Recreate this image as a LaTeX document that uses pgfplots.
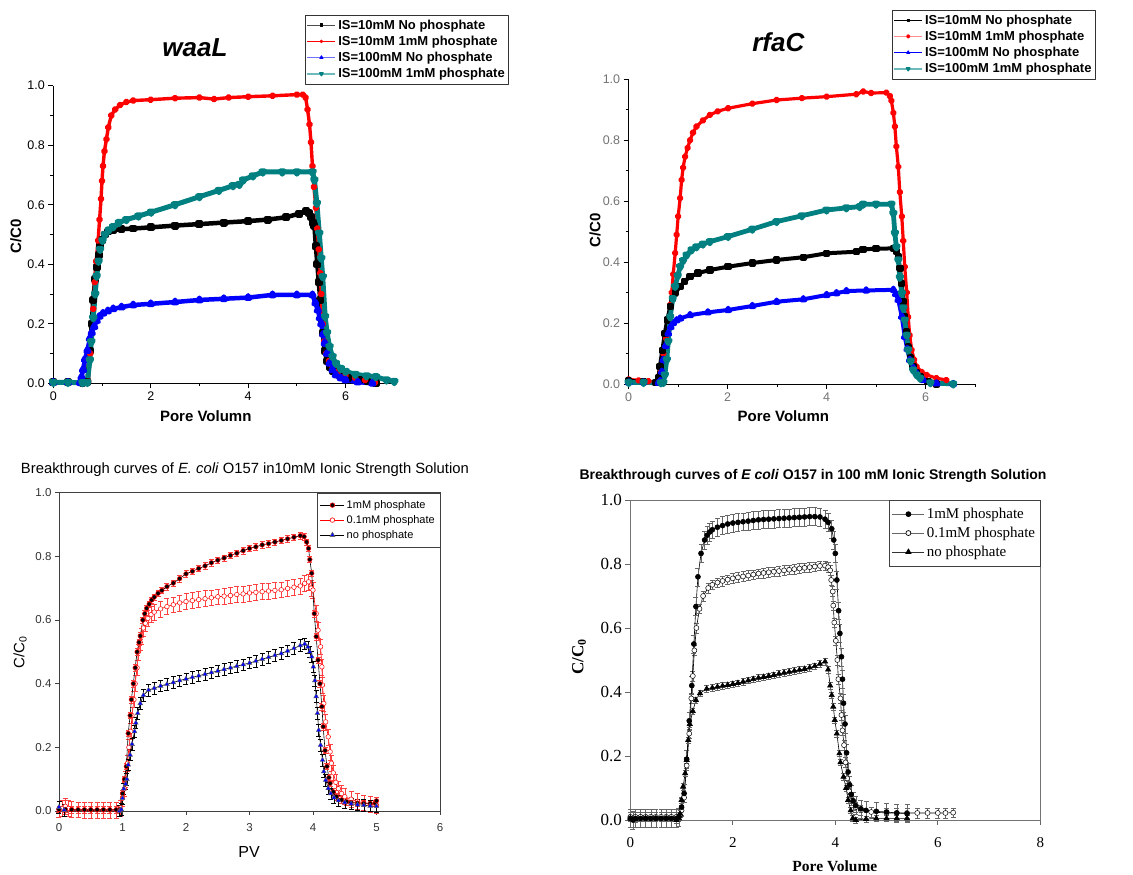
\documentclass[border=0pt]{standalone}
\usepackage{fontspec}
\setmainfont{Liberation Sans}
\newfontfamily\seriffont{Liberation Serif}
\usepackage{pgfplots}
\pgfplotsset{compat=1.18}
\definecolor{tealc}{RGB}{0,128,128}
\definecolor{tealL}{RGB}{110,185,185}
\definecolor{redL}{RGB}{255,140,140}
\definecolor{blueL}{RGB}{110,110,255}
\newcommand{\fs}[1]{\fontsize{#1}{#1}\selectfont}
\pgfplotsset{
  every axis title shift=0pt,
  topax/.style={
    scale only axis, xmin=0, xmax=7, ymin=0, ymax=1,
    axis x line*=bottom, axis y line*=left,
    axis line style={line width=0.8pt,-},
    xtick={0,2,4,6}, minor xtick={1,3,5,7},
    ytick={0,0.2,0.4,0.6,0.8,1.0}, minor ytick={0.1,0.3,0.5,0.7,0.9},
    tick align=outside, major tick length=5pt, minor tick length=3pt,
    every tick/.style={line width=0.8pt, black},
    yticklabel style={/pgf/number format/.cd,fixed,fixed zerofill,precision=1},
    /pgf/number format/assume math mode=true,
    clip=false,
    legend cell align=left,
    line join=round,
  },
}
\begin{document}
\begin{tikzpicture}
\path[use as bounding box] (0,0) rectangle (1133pt,875pt);

%================ Panel 1: waaL
\begin{axis}[topax,
  at={(53.3pt,491.7pt)}, anchor=south west, width=341pt, height=297.6pt,
  tick label style={font=\fs{12.5}},
  title={\bfseries\itshape\fs{26}waaL},
  title style={at={(rel axis cs:0.4155,1.1267)}, anchor=center},
  xlabel={\bfseries\fs{15}Pore Volumn},
  xlabel style={at={(rel axis cs:0.447,-0.112)}, anchor=center},
  ylabel={\bfseries\fs{15}C/C0},
  ylabel style={at={(rel axis cs:-0.110,0.493)}, anchor=center},
  legend style={at={(rel axis cs:0.738,1.2376)}, anchor=north west, font=\bfseries\fontsize{13}{14}\selectfont, draw=black!80, inner xsep=1.5pt, inner ysep=2.5pt, row sep=1.3pt},
  legend image code/.code={\draw[mark repeat=2,mark phase=2,#1] plot coordinates {(0pt,0pt)(14pt,0pt)(28pt,0pt)};},
]
\addplot[black, line width=4.5pt, mark=square*, mark size=1.7pt, forget plot] coordinates {
(0,0.003)(0.3,0.003)(0.6,0.002)(0.7,0.005)(0.75,0.11)(0.79,0.2)(0.82,0.28)(0.86,0.35)(0.89,0.39)(0.93,0.43)(0.96,0.46)(1.0,0.48)(1.06,0.50)(1.13,0.51)(1.23,0.515)(1.4,0.518)(1.64,0.52)(2.0,0.524)(2.5,0.53)(3.0,0.535)(3.5,0.54)(4.0,0.545)(4.4,0.55)(4.78,0.558)(5.05,0.57)(5.19,0.578)(5.25,0.572)(5.29,0.56)(5.33,0.54)(5.36,0.53)(5.39,0.46)(5.42,0.40)(5.45,0.34)(5.48,0.28)(5.5,0.22)(5.53,0.17)(5.57,0.11)(5.62,0.075)(5.67,0.056)(5.75,0.04)(5.87,0.028)(6.05,0.018)(6.28,0.011)(6.45,0.006)(6.62,0)};
\addplot[red, line width=3.4pt, mark=*, mark size=1.9pt, forget plot] coordinates {
(0,0.003)(0.3,0.003)(0.6,0.002)(0.72,0.005)(0.76,0.1)(0.79,0.17)(0.82,0.25)(0.85,0.34)(0.88,0.41)(0.92,0.48)(0.95,0.55)(0.98,0.62)(1.0,0.68)(1.02,0.73)(1.05,0.78)(1.09,0.82)(1.13,0.86)(1.19,0.90)(1.27,0.92)(1.37,0.935)(1.5,0.945)(1.64,0.95)(2.0,0.953)(2.5,0.958)(3.0,0.96)(3.3,0.955)(3.6,0.96)(4.0,0.963)(4.5,0.966)(5.0,0.97)(5.12,0.97)(5.18,0.96)(5.22,0.92)(5.26,0.87)(5.29,0.81)(5.32,0.73)(5.35,0.66)(5.39,0.59)(5.42,0.52)(5.45,0.45)(5.48,0.37)(5.5,0.30)(5.53,0.20)(5.56,0.14)(5.6,0.10)(5.66,0.075)(5.73,0.056)(5.85,0.04)(6.0,0.028)(6.2,0.018)(6.4,0.011)(6.6,0.003)};
\addplot[blue, line width=4.5pt, mark=triangle*, mark size=2.2pt, forget plot] coordinates {
(0,0.003)(0.3,0.003)(0.55,0.002)(0.58,0.02)(0.61,0.045)(0.65,0.08)(0.7,0.11)(0.75,0.15)(0.79,0.17)(0.84,0.19)(0.89,0.21)(0.95,0.225)(1.02,0.235)(1.12,0.243)(1.23,0.25)(1.4,0.256)(1.64,0.263)(2.0,0.267)(2.5,0.273)(3.0,0.28)(3.5,0.284)(4.0,0.288)(4.5,0.297)(5.0,0.297)(5.32,0.297)(5.38,0.27)(5.43,0.246)(5.47,0.22)(5.5,0.2)(5.54,0.165)(5.57,0.135)(5.62,0.1)(5.67,0.067)(5.73,0.045)(5.8,0.028)(5.9,0.018)(6.0,0.011)(6.25,0.004)(6.55,0)};
\addplot[tealc, line width=5pt, mark=triangle*, mark size=2.2pt, mark options={rotate=180}, forget plot] coordinates {
(0,0.003)(0.3,0.003)(0.6,0.002)(0.7,0.003)(0.75,0.078)(0.78,0.14)(0.82,0.22)(0.86,0.30)(0.89,0.36)(0.93,0.41)(0.96,0.45)(1.01,0.48)(1.06,0.50)(1.14,0.515)(1.23,0.526)(1.35,0.54)(1.5,0.55)(1.75,0.562)(2.01,0.575)(2.5,0.6)(3.0,0.627)(3.4,0.648)(3.69,0.664)(3.82,0.668)(3.9,0.683)(4.1,0.697)(4.3,0.71)(4.7,0.71)(5.0,0.71)(5.32,0.71)(5.36,0.683)(5.41,0.605)(5.46,0.504)(5.5,0.42)(5.53,0.358)(5.58,0.224)(5.62,0.17)(5.67,0.123)(5.73,0.09)(5.8,0.067)(5.9,0.05)(6.0,0.04)(6.2,0.03)(6.43,0.025)(6.62,0.022)(6.84,0.011)(7.0,0.006)};
\addlegendimage{black!70, line width=0.7pt, mark=square*, mark size=1.3pt, mark options={black}}
\addlegendentry{IS=10mM No phosphate}
\addlegendimage{red, line width=0.7pt, mark=*, mark size=1.4pt}
\addlegendentry{IS=10mM 1mM phosphate}
\addlegendimage{blueL, line width=1pt, mark=triangle*, mark size=1.8pt, mark options={blue}}
\addlegendentry{IS=100mM No phosphate}
\addlegendimage{tealL, line width=1.6pt, mark=triangle*, mark size=1.8pt, mark options={rotate=180, tealc}}
\addlegendentry{IS=100mM 1mM phosphate}
\end{axis}

%================ Panel 2: rfaC
\begin{axis}[topax,
  at={(628.7pt,491pt)}, anchor=south west, width=346.3pt, height=304.7pt,
  tick label style={font=\fs{12.5}, text=black!55},
  title={\bfseries\itshape\fs{26}rfaC},
  title style={at={(rel axis cs:0.432,1.1214)}, anchor=center},
  xlabel={\bfseries\fs{15}Pore Volumn},
  xlabel style={at={(rel axis cs:0.4464,-0.105)}, anchor=center},
  ylabel={\bfseries\fs{15}C/C0},
  ylabel style={at={(rel axis cs:-0.0973,0.505)}, anchor=center},
  legend style={at={(rel axis cs:0.7595,1.2274)}, anchor=north west, font=\bfseries\fontsize{13}{14}\selectfont, draw=black!80, inner xsep=1.5pt, inner ysep=2.5pt, row sep=1.3pt},
  legend image code/.code={\draw[mark repeat=2,mark phase=2,#1] plot coordinates {(0pt,0pt)(14pt,0pt)(28pt,0pt)};},
]
\addplot[red, line width=3.2pt, mark=*, mark size=1.9pt, forget plot] coordinates {
(0,0.015)(0.2,0.012)(0.4,0.009)(0.6,0.005)(0.65,0.04)(0.7,0.10)(0.75,0.15)(0.8,0.21)(0.84,0.26)(0.87,0.30)(0.9,0.36)(0.94,0.43)(0.97,0.49)(1.0,0.55)(1.04,0.61)(1.07,0.67)(1.1,0.71)(1.14,0.746)(1.19,0.775)(1.24,0.80)(1.3,0.825)(1.37,0.845)(1.5,0.865)(1.64,0.883)(1.8,0.895)(2.01,0.905)(2.5,0.92)(2.99,0.932)(3.5,0.938)(4.0,0.943)(4.6,0.951)(4.74,0.96)(4.9,0.955)(5.21,0.956)(5.28,0.945)(5.31,0.93)(5.35,0.89)(5.38,0.845)(5.41,0.78)(5.45,0.713)(5.48,0.63)(5.52,0.55)(5.55,0.47)(5.58,0.385)(5.62,0.30)(5.65,0.22)(5.68,0.16)(5.72,0.112)(5.77,0.08)(5.82,0.057)(5.92,0.04)(6.02,0.03)(6.22,0.019)(6.42,0.013)};
\addplot[black, line width=4pt, mark=square*, mark size=1.7pt, forget plot] coordinates {
(0,0.01)(0.3,0.008)(0.55,0.005)(0.6,0.02)(0.63,0.057)(0.68,0.11)(0.73,0.166)(0.78,0.21)(0.84,0.254)(0.89,0.28)(0.94,0.298)(1.04,0.32)(1.13,0.337)(1.24,0.352)(1.4,0.364)(1.64,0.374)(2.01,0.385)(2.5,0.397)(2.99,0.407)(3.53,0.416)(4.0,0.429)(4.6,0.434)(4.74,0.442)(5.0,0.444)(5.35,0.445)(5.41,0.435)(5.45,0.418)(5.48,0.38)(5.52,0.33)(5.55,0.27)(5.58,0.22)(5.62,0.17)(5.65,0.122)(5.7,0.085)(5.75,0.057)(5.82,0.037)(5.89,0.024)(6.05,0.008)(6.22,0)};
\addplot[blue, line width=4pt, mark=triangle*, mark size=2.2pt, forget plot] coordinates {
(0,0.005)(0.3,0.005)(0.6,0.004)(0.64,0.01)(0.67,0.04)(0.7,0.079)(0.75,0.125)(0.8,0.166)(0.85,0.187)(0.9,0.2)(0.97,0.209)(1.04,0.215)(1.24,0.226)(1.6,0.235)(2.01,0.243)(2.5,0.256)(2.99,0.27)(3.53,0.278)(4.0,0.292)(4.2,0.298)(4.4,0.305)(4.8,0.307)(5.35,0.309)(5.4,0.295)(5.45,0.276)(5.52,0.221)(5.58,0.155)(5.63,0.115)(5.68,0.079)(5.75,0.053)(5.82,0.035)(5.95,0.013)(6.22,0.002)(6.56,0)};
\addplot[tealc, line width=4.8pt, mark=triangle*, mark size=2.2pt, mark options={rotate=180}, forget plot] coordinates {
(0,0.005)(0.3,0.005)(0.65,0.004)(0.7,0.005)(0.73,0.03)(0.77,0.08)(0.8,0.14)(0.84,0.22)(0.89,0.28)(0.94,0.32)(0.99,0.355)(1.04,0.385)(1.1,0.405)(1.17,0.423)(1.27,0.44)(1.37,0.45)(1.5,0.459)(1.64,0.467)(2.01,0.484)(2.5,0.508)(2.99,0.533)(3.5,0.552)(4.0,0.571)(4.4,0.578)(4.67,0.582)(4.74,0.59)(5.0,0.59)(5.31,0.59)(5.35,0.56)(5.38,0.495)(5.41,0.45)(5.45,0.407)(5.48,0.35)(5.52,0.298)(5.55,0.25)(5.58,0.21)(5.62,0.16)(5.65,0.112)(5.7,0.075)(5.75,0.046)(5.82,0.03)(5.89,0.019)(6.1,0.004)(6.56,0)};
\addlegendimage{black, line width=0.7pt, mark=square*, mark size=1.3pt}
\addlegendentry{IS=10mM No phosphate}
\addlegendimage{redL, line width=1.6pt, mark=*, mark size=1.4pt, mark options={red}}
\addlegendentry{IS=10mM 1mM phosphate}
\addlegendimage{blue, line width=0.8pt, mark=triangle*, mark size=1.8pt}
\addlegendentry{IS=100mM No phosphate}
\addlegendimage{tealL, line width=1.6pt, mark=triangle*, mark size=1.8pt, mark options={rotate=180, tealc}}
\addlegendentry{IS=100mM 1mM phosphate}
\end{axis}

%================ Panel 3: 10 mM
\begin{axis}[
  scale only axis, at={(59pt,64pt)}, anchor=south west, width=381pt, height=318.3pt,
  xmin=0, xmax=6, ymin=0, ymax=1, clip=false,
  axis line style={black!75, line width=0.8pt},
  xtick={0,1,2,3,4,5,6}, ytick={0,0.2,0.4,0.6,0.8,1.0},
  xtick pos=bottom, ytick pos=left, tick align=outside, major tick length=4pt,
  every tick/.style={black!75, line width=0.8pt},
  tick label style={font=\fs{11.5}, text=black!80},
  xticklabel style={yshift=-5pt},
  yticklabel style={/pgf/number format/.cd,fixed,fixed zerofill,precision=1},
  /pgf/number format/assume math mode=true,
  title={\fs{14.8}Breakthrough curves of \textit{E. coli} O157 in10mM Ionic Strength Solution},
  title style={at={(rel axis cs:0.488,1.0735)}, anchor=center},
  xlabel={\fs{16}PV},
  xlabel style={at={(rel axis cs:0.4987,-0.128)}, anchor=center},
  ylabel={\fs{15}C/C\textsubscript{0}},
  ylabel style={at={(rel axis cs:-0.102,0.4986)}, anchor=center},
  legend style={at={(rel axis cs:1,1)}, anchor=north east, font=\fontsize{11}{13}\selectfont, draw=black!75, inner xsep=3pt, inner ysep=5.5pt, row sep=1.5pt},
  legend cell align=left,
  legend image code/.code={\draw[mark repeat=2,mark phase=2,#1] plot coordinates {(0pt,0pt)(12pt,0pt)(24pt,0pt)};},
]
\addplot[red, line width=0.6pt, mark=*, mark size=2.3pt, mark options={draw=red, fill=white, line width=0.5pt}, forget plot,
  error bars/.cd, y dir=both, y fixed=0.025, error bar style={red!75, line width=0.5pt}, error mark options={rotate=90, mark size=2.5pt, red!75, line width=0.5pt}] coordinates {
(0,0.005)(0.05,0.008)(0.1,0.015)(0.15,0.008)(0.2,0.005)(0.3,0.004)(0.4,0.003)(0.5,0.003)(0.6,0.003)(0.7,0.003)(0.8,0.003)(0.9,0.003)(0.97,0.01)(1.0,0.04)(1.03,0.07)(1.05,0.1)(1.08,0.15)(1.1,0.2)(1.13,0.25)(1.15,0.3)(1.18,0.35)(1.2,0.4)(1.23,0.45)(1.25,0.5)(1.28,0.53)(1.3,0.55)(1.33,0.575)(1.36,0.59)(1.4,0.605)(1.45,0.617)(1.5,0.625)(1.6,0.635)(1.7,0.642)(1.8,0.648)(1.9,0.654)(2.0,0.658)(2.1,0.661)(2.2,0.664)(2.3,0.667)(2.4,0.67)(2.5,0.673)(2.6,0.675)(2.7,0.677)(2.8,0.68)(2.9,0.682)(3.0,0.685)(3.1,0.687)(3.2,0.689)(3.3,0.691)(3.4,0.693)(3.5,0.695)(3.6,0.699)(3.7,0.703)(3.8,0.707)(3.87,0.715)(3.93,0.72)(3.97,0.7)(4.0,0.694)(4.05,0.62)(4.08,0.568)(4.12,0.516)(4.14,0.453)(4.15,0.396)(4.17,0.338)(4.2,0.28)(4.24,0.233)(4.27,0.186)(4.29,0.15)(4.32,0.12)(4.36,0.09)(4.4,0.07)(4.45,0.055)(4.5,0.045)(4.6,0.037)(4.7,0.03)(4.8,0.026)(4.9,0.022)(5.0,0.018)};
\addplot[black, line width=0.6pt, mark=*, mark size=2.3pt, mark options={draw=red, fill=black, line width=0.5pt}, forget plot,
  error bars/.cd, y dir=both, y fixed=0.01, error bar style={red!75, line width=0.5pt}, error mark options={rotate=90, mark size=2.5pt, red!75, line width=0.5pt}] coordinates {
(0,0.005)(0.1,0.005)(0.2,0.004)(0.3,0.004)(0.4,0.004)(0.5,0.004)(0.6,0.004)(0.7,0.004)(0.8,0.004)(0.9,0.004)(0.96,0.005)(1.0,0.055)(1.03,0.10)(1.06,0.14)(1.09,0.244)(1.12,0.30)(1.14,0.35)(1.17,0.40)(1.2,0.45)(1.23,0.50)(1.26,0.53)(1.28,0.55)(1.32,0.60)(1.35,0.62)(1.38,0.637)(1.42,0.65)(1.46,0.663)(1.5,0.672)(1.56,0.684)(1.62,0.693)(1.7,0.705)(1.8,0.716)(1.9,0.73)(2.0,0.745)(2.1,0.753)(2.2,0.762)(2.3,0.77)(2.4,0.78)(2.5,0.788)(2.6,0.795)(2.7,0.803)(2.8,0.81)(2.9,0.818)(3.0,0.825)(3.1,0.83)(3.2,0.836)(3.3,0.84)(3.4,0.845)(3.5,0.85)(3.6,0.855)(3.7,0.86)(3.8,0.865)(3.86,0.862)(3.9,0.845)(3.93,0.825)(3.95,0.79)(3.98,0.747)(4.02,0.62)(4.05,0.548)(4.08,0.474)(4.11,0.40)(4.14,0.328)(4.16,0.265)(4.19,0.19)(4.22,0.14)(4.25,0.105)(4.27,0.087)(4.32,0.06)(4.37,0.045)(4.45,0.035)(4.53,0.029)(4.6,0.027)(4.7,0.025)(4.8,0.024)(4.9,0.024)(4.98,0.025)(5.0,0.032)};
\addplot[black, line width=0.6pt, mark=triangle*, mark size=2.8pt, mark options={draw=black!60, fill=blue, line width=0.4pt}, forget plot,
  error bars/.cd, y dir=both, y fixed=0.018, error bar style={black, line width=0.5pt}, error mark options={rotate=90, mark size=2.5pt, black, line width=0.5pt}] coordinates {
(0,0.012)(0.08,0.003)(0.95,0.0)(0.98,0.005)(1.0,0.04)(1.02,0.07)(1.05,0.085)(1.07,0.10)(1.09,0.145)(1.12,0.176)(1.15,0.21)(1.19,0.25)(1.21,0.277)(1.24,0.307)(1.28,0.338)(1.33,0.364)(1.41,0.38)(1.5,0.386)(1.6,0.393)(1.7,0.398)(1.8,0.404)(1.9,0.41)(2.0,0.415)(2.1,0.42)(2.2,0.425)(2.3,0.43)(2.4,0.435)(2.5,0.44)(2.6,0.445)(2.7,0.45)(2.8,0.455)(2.9,0.46)(3.0,0.465)(3.1,0.471)(3.2,0.477)(3.3,0.483)(3.4,0.489)(3.5,0.495)(3.6,0.503)(3.7,0.511)(3.8,0.52)(3.87,0.525)(3.92,0.515)(3.95,0.50)(3.98,0.485)(4.005,0.453)(4.03,0.41)(4.05,0.36)(4.07,0.307)(4.09,0.254)(4.12,0.207)(4.15,0.16)(4.17,0.124)(4.2,0.097)(4.24,0.071)(4.28,0.055)(4.33,0.042)(4.4,0.033)(4.5,0.027)(4.6,0.023)(4.7,0.02)(4.8,0.018)(4.9,0.016)(5.0,0.015)};
\addlegendimage{black, line width=0.6pt, mark=*, mark size=2.3pt, mark options={draw=red, fill=black}}
\addlegendentry{1mM phosphate}
\addlegendimage{red, line width=0.6pt, mark=*, mark size=2.3pt, mark options={draw=red, fill=white}}
\addlegendentry{0.1mM phosphate}
\addlegendimage{black, line width=0.6pt, mark=triangle*, mark size=2.8pt, mark options={draw=black!60, fill=blue}}
\addlegendentry{no phosphate}
\end{axis}

%================ Panel 4: 100 mM
\begin{axis}[
  scale only axis, at={(630.3pt,55pt)}, anchor=south west, width=410pt, height=320pt,
  xmin=0, xmax=8, ymin=0, ymax=1, clip=false,
  axis line style={black!55, line width=0.8pt},
  xtick={0,2,4,6,8}, ytick={0,0.2,0.4,0.6,0.8,1.0},
  xtick pos=bottom, ytick pos=left, tick align=outside, major tick length=5pt,
  every tick/.style={black!60, line width=0.8pt},
  tick label style={font=\seriffont\fs{17}},
  xticklabel style={font=\seriffont\fs{15}, yshift=-9pt},
  yticklabel style={/pgf/number format/.cd,fixed,fixed zerofill,precision=1},
  /pgf/number format/assume math mode=true,
  title={\bfseries\fs{14}Breakthrough curves of \textit{E coli} O157 in 100 mM Ionic Strength Solution},
  title style={at={(rel axis cs:0.4456,1.076)}, anchor=center},
  xlabel={\seriffont\bfseries\fs{15.5}Pore Volume},
  xlabel style={at={(rel axis cs:0.499,-0.146)}, anchor=center},
  ylabel={\seriffont\bfseries\fs{17}C/C\textsubscript{0}},
  ylabel style={at={(rel axis cs:-0.125,0.51)}, anchor=center},
  legend style={at={(rel axis cs:1,1)}, anchor=north east, font=\seriffont\fontsize{15}{17}\selectfont, draw=black!75, inner xsep=3pt, inner ysep=6pt, row sep=3pt},
  legend cell align=left,
  legend image code/.code={\draw[mark repeat=2,mark phase=2,#1] plot coordinates {(0pt,0pt)(16pt,0pt)(32pt,0pt)};},
]
\addplot[black, line width=0.6pt, mark=*, mark size=2.5pt, mark options={draw=black, fill=white, line width=0.5pt}, forget plot,
  error bars/.cd, y dir=both, y fixed=0.015, error bar style={black!60, line width=0.5pt}, error mark options={rotate=90, mark size=2.5pt, black!60, line width=0.5pt}] coordinates {
(0,0.01)(0.1,0.01)(0.2,0.01)(0.3,0.01)(0.4,0.01)(0.5,0.01)(0.6,0.01)(0.7,0.01)(0.8,0.01)(0.9,0.01)(0.97,0.015)(1.0,0.03)(1.05,0.07)(1.1,0.17)(1.15,0.27)(1.19,0.38)(1.22,0.45)(1.25,0.53)(1.29,0.6)(1.35,0.66)(1.42,0.70)(1.52,0.725)(1.6,0.735)(1.7,0.742)(1.8,0.747)(1.9,0.751)(2.0,0.755)(2.1,0.758)(2.2,0.761)(2.3,0.764)(2.4,0.767)(2.5,0.77)(2.6,0.772)(2.7,0.774)(2.8,0.776)(2.9,0.778)(3.0,0.78)(3.1,0.782)(3.2,0.784)(3.3,0.786)(3.4,0.788)(3.5,0.79)(3.6,0.792)(3.7,0.794)(3.8,0.795)(3.86,0.79)(3.9,0.78)(3.92,0.75)(3.95,0.714)(3.96,0.67)(3.98,0.617)(4.01,0.56)(4.04,0.5)(4.06,0.44)(4.1,0.38)(4.12,0.328)(4.14,0.28)(4.17,0.234)(4.2,0.18)(4.23,0.13)(4.27,0.09)(4.32,0.06)(4.4,0.04)(4.5,0.03)(4.7,0.025)(5.0,0.022)(5.2,0.022)(5.4,0.022)(5.6,0.022)(5.8,0.022)(6.0,0.022)(6.15,0.022)(6.3,0.023)};
\addplot[black, line width=0.6pt, mark=*, mark size=2.5pt, mark options={fill=black}, forget plot,
  error bars/.cd, y dir=both, y fixed=0.028, error bar style={black!60, line width=0.5pt}, error mark options={rotate=90, mark size=2.5pt, black!60, line width=0.5pt}] coordinates {
(0,0.005)(0.05,0.0)(0.1,0.005)(0.2,0.005)(0.3,0.005)(0.4,0.005)(0.5,0.005)(0.6,0.005)(0.7,0.005)(0.8,0.005)(0.9,0.005)(0.95,0.01)(1.0,0.04)(1.05,0.083)(1.1,0.19)(1.15,0.31)(1.2,0.42)(1.24,0.55)(1.28,0.667)(1.32,0.76)(1.38,0.833)(1.45,0.875)(1.5,0.89)(1.55,0.9)(1.6,0.907)(1.7,0.915)(1.8,0.92)(1.9,0.925)(2.0,0.928)(2.1,0.93)(2.2,0.932)(2.3,0.934)(2.4,0.936)(2.5,0.938)(2.6,0.939)(2.7,0.94)(2.8,0.941)(2.9,0.942)(3.0,0.943)(3.1,0.944)(3.2,0.945)(3.3,0.946)(3.4,0.947)(3.5,0.948)(3.6,0.948)(3.7,0.947)(3.8,0.94)(3.86,0.93)(3.93,0.91)(3.97,0.875)(4.0,0.833)(4.03,0.75)(4.065,0.654)(4.09,0.583)(4.12,0.51)(4.14,0.44)(4.16,0.365)(4.19,0.30)(4.22,0.21)(4.25,0.15)(4.28,0.11)(4.31,0.08)(4.35,0.06)(4.4,0.045)(4.5,0.035)(4.6,0.03)(4.8,0.027)(5.0,0.025)(5.2,0.022)(5.4,0.02)};
\addplot[black, line width=0.6pt, mark=triangle*, mark size=3pt, mark options={fill=black}, forget plot,
  error bars/.cd, y dir=both, y fixed=0.01, error bar style={black!60, line width=0.5pt}, error mark options={rotate=90, mark size=2.5pt, black!60, line width=0.5pt}] coordinates {
(0,0.005)(0.1,0.003)(0.3,0.005)(0.5,0.005)(0.7,0.005)(0.9,0.0)(0.95,0.005)(0.97,0.02)(1.0,0.0625)(1.03,0.104)(1.07,0.146)(1.1,0.1875)(1.13,0.25)(1.16,0.30)(1.22,0.34)(1.28,0.375)(1.36,0.396)(1.49,0.41)(1.6,0.413)(1.7,0.416)(1.8,0.419)(1.9,0.422)(2.0,0.425)(2.1,0.428)(2.2,0.432)(2.3,0.436)(2.4,0.44)(2.5,0.444)(2.6,0.447)(2.7,0.45)(2.8,0.453)(2.9,0.457)(3.0,0.46)(3.1,0.463)(3.2,0.466)(3.3,0.469)(3.4,0.472)(3.5,0.476)(3.6,0.481)(3.7,0.488)(3.8,0.495)(3.86,0.47)(3.9,0.42)(3.93,0.39)(3.96,0.354)(3.99,0.3125)(4.03,0.27)(4.08,0.208)(4.1,0.18)(4.16,0.135)(4.21,0.1)(4.25,0.0625)(4.3,0.03)(4.34,0.005)(4.4,0.0)(4.6,0.003)(4.8,0.005)(5.0,0.005)(5.2,0.005)(5.4,0.005)};
\addlegendimage{black!60, line width=0.7pt, mark=*, mark size=2.5pt, mark options={black, fill=black}}
\addlegendentry{1mM phosphate}
\addlegendimage{black!60, line width=0.7pt, mark=*, mark size=2.5pt, mark options={black, fill=white}}
\addlegendentry{0.1mM phosphate}
\addlegendimage{black!80, line width=0.7pt, mark=triangle*, mark size=3pt, mark options={black, fill=black}}
\addlegendentry{no phosphate}
\end{axis}
\end{tikzpicture}
\end{document}
